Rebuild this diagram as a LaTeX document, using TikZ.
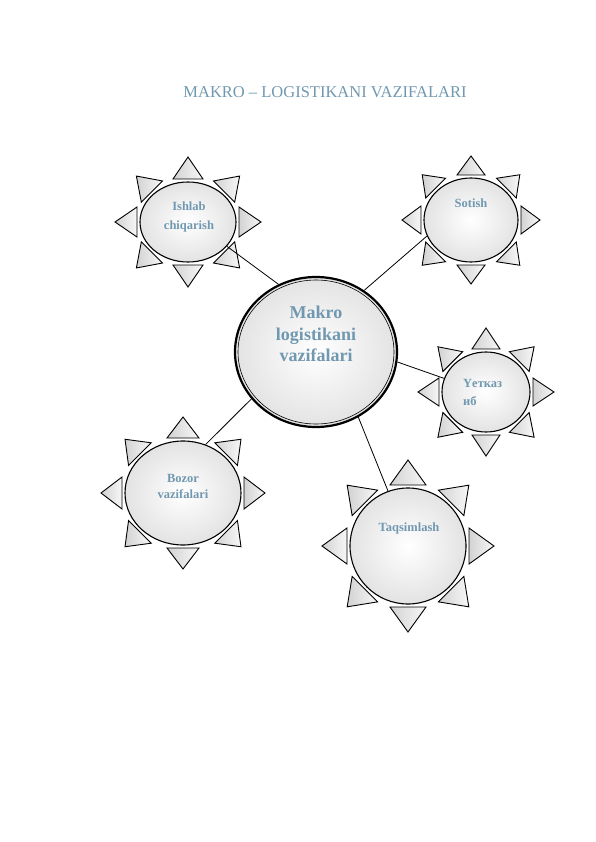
\documentclass[tikz,border=0pt]{standalone}
\usepackage{fontspec}
\setmainfont{Liberation Serif}
\usetikzlibrary{shapes.geometric}

\definecolor{txtblue}{RGB}{112,152,176}

\tikzset{
    sun/.style = {ellipse, draw, line width=1.1pt, inner sep=0pt,
                  inner color=white, outer color=gray!22},
    ray/.style = {draw, line width=0.9pt, line join=miter,
                  left color=gray!35, right color=gray!6},
    lbl/.style = {text=txtblue, align=center, inner sep=0pt,
                  font=\fontsize{12.5}{18}\selectfont\bfseries},
    link/.style = {line width=0.8pt}
}

\begin{document}
\begin{tikzpicture}[x = 1pt, y = -1pt]
    \useasboundingbox (0,0) rectangle (596,842);

    \node[text=txtblue, font=\fontsize{16.5}{18}\selectfont] (title) at (325,92)
        {MAKRO -- LOGISTIKANI VAZIFALARI};

    % main circle
    \node[sun, line width=2.2pt, minimum width=162pt, minimum height=150pt] (mk) at (316,352) {};
    \draw[line width=0.6pt] (mk.center) ellipse [x radius=78, y radius=72];
    \node[lbl, font=\fontsize{18}{21.5}\selectfont\bfseries] (mk-t) at (316,334)
        {Makro\\logistikani\\vazifalari};

    % functions
    \node[sun, minimum width=96pt, minimum height=80pt] (ish) at (188,222) {};
    \node[sun, minimum width=94pt, minimum height=84pt] (sot) at (471,220) {};
    \node[sun, minimum width=88pt, minimum height=80pt] (yet) at (486,392) {};
    \node[sun, minimum width=116pt, minimum height=104pt] (boz) at (183,493) {};
    \node[sun, minimum width=116pt, minimum height=116pt] (taq) at (408,546) {};

    \node[lbl, font=\fontsize{12.5}{19}\selectfont\bfseries] (ish-t) at (189,217) {Ishlab\\chiqarish};
    \node[lbl] (sot-t) at (471,203) {Sotish};
    \node[lbl, align=left, anchor=west] (yet-t) at (463,392) {Yетказ\\иб};
    \node[lbl, font=\fontsize{12.5}{16}\selectfont\bfseries] (boz-t) at (183,486) {Bozor\\vazifalari};
    \node[lbl] (taq-t) at (409,528) {Taqsimlash};

    % rays
    \foreach \n/\rx/\ry/\w/\h in {ish/48/40/15/25, sot/47/42/14/22, yet/44/40/14/24,
                                  boz/58/52/16/24, taq/58/58/18/28}
        \foreach \a in {0,45,...,315} {
            \begin{scope}[shift={(\n.center)}]
                \draw[ray]
                ({(\rx+3)*cos(\a)-\w*sin(\a)},{(\ry+3)*sin(\a)+\w*cos(\a)})
                -- ({(\rx+\h)*cos(\a)},{(\ry+\h)*sin(\a)})
                -- ({(\rx+3)*cos(\a)+\w*sin(\a)},{(\ry+3)*sin(\a)-\w*cos(\a)}) -- cycle;
            \end{scope}
        }

    % links
    \draw[link] (mk.119) -- (ish.-32);
    \draw[link] (mk.52) -- (sot.200);
    \draw[link] (mk.-7) -- (yet.162);
    \draw[link] (mk.216) -- (boz.65);
    \draw[link] (mk.-57) -- (taq.110);
\end{tikzpicture}
\end{document}
